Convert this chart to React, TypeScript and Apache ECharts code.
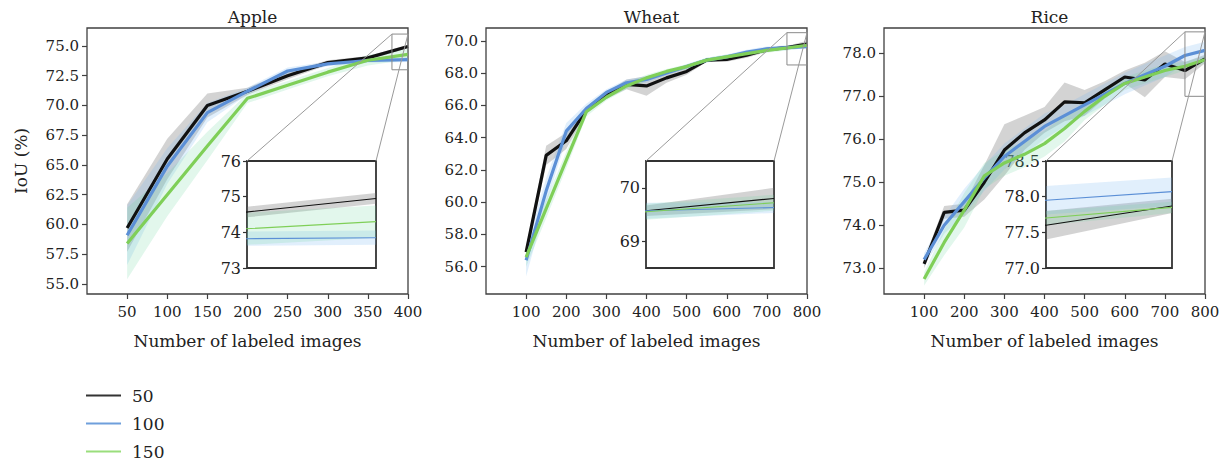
import React, { useEffect, useRef } from "react";
import * as echarts from "echarts";

const FONT = "'DejaVu Serif', 'Liberation Serif', serif";
const TXT = "#222222";

// ---------- Apple ----------
const appleX = [50, 100, 150, 200, 250, 300, 350, 400];
const apple50 = [59.7, 65.5, 70.0, 71.2, 72.5, 73.6, 74.0, 74.95];
const apple100 = [59.1, 64.9, 69.4, 71.2, 72.9, 73.5, 73.78, 73.85];
const apple150 = [58.4, 62.5, 66.6, 70.6, 71.7, 72.8, 73.8, 74.3];
const apple50Sd = [2.0, 1.7, 1.0, 0.3, 0.3, 0.2, 0.15, 0.15];
const apple100Sd = [2.5, 1.5, 0.8, 0.3, 0.3, 0.2, 0.2, 0.2];
const apple150Sd = [3.0, 1.8, 1.2, 0.4, 0.35, 0.35, 0.45, 0.45];
const appleXTicks = [50, 100, 150, 200, 250, 300, 350, 400];
const appleYTicks = [55, 57.5, 60, 62.5, 65, 67.5, 70, 72.5, 75];
const appleInsetTicks = [73, 74, 75, 76];

// ---------- Wheat ----------
const wheatX = [100, 150, 200, 250, 300, 350, 400, 450, 500, 550, 600, 650, 700, 750, 800];
const wheat50 = [56.9, 62.9, 63.8, 65.7, 66.6, 67.3, 67.2, 67.7, 68.1, 68.8, 68.85, 69.1, 69.45, 69.57, 69.8];
const wheat100 = [56.4, 60.7, 64.4, 65.8, 66.8, 67.4, 67.6, 68.0, 68.4, 68.8, 69.0, 69.3, 69.5, 69.57, 69.63];
const wheat150 = [56.6, 59.6, 62.6, 65.6, 66.5, 67.2, 67.7, 68.1, 68.4, 68.8, 69.0, 69.2, 69.4, 69.55, 69.72];
const wheat50Sd = [0.3, 0.6, 0.5, 0.2, 0.2, 0.3, 0.6, 0.3, 0.2, 0.1, 0.15, 0.15, 0.15, 0.1, 0.2];
const wheat100Sd = [1.0, 0.8, 0.5, 0.3, 0.2, 0.2, 0.2, 0.15, 0.15, 0.15, 0.15, 0.15, 0.15, 0.15, 0.1];
const wheat150Sd = [0.6, 0.6, 0.5, 0.3, 0.2, 0.2, 0.2, 0.15, 0.15, 0.15, 0.15, 0.15, 0.15, 0.15, 0.15];
const wheatXTicks = [100, 200, 300, 400, 500, 600, 700, 800];
const wheatYTicks = [56, 58, 60, 62, 64, 66, 68, 70];
const wheatInsetTicks = [69, 70];

// ---------- Rice ----------
const riceX = [100, 150, 200, 250, 300, 350, 400, 450, 500, 550, 600, 650, 700, 750, 800];
const rice50 = [73.1, 74.3, 74.35, 75.0, 75.75, 76.15, 76.45, 76.87, 76.85, 77.15, 77.45, 77.38, 77.75, 77.6, 77.87];
const rice100 = [73.2, 74.0, 74.55, 75.1, 75.6, 75.95, 76.3, 76.55, 76.8, 77.05, 77.3, 77.5, 77.7, 77.95, 78.07];
const rice150 = [72.75, 73.6, 74.35, 75.15, 75.45, 75.65, 75.9, 76.25, 76.65, 77.0, 77.3, 77.45, 77.6, 77.7, 77.85];
const rice50Sd = [0.1, 0.15, 0.15, 0.4, 0.6, 0.4, 0.3, 0.45, 0.3, 0.2, 0.15, 0.4, 0.3, 0.2, 0.1];
const rice100Sd = [0.15, 0.2, 0.3, 0.3, 0.3, 0.3, 0.3, 0.25, 0.25, 0.25, 0.25, 0.25, 0.25, 0.2, 0.2];
const rice150Sd = [0.15, 0.3, 0.4, 0.3, 0.3, 0.3, 0.3, 0.3, 0.2, 0.2, 0.15, 0.15, 0.15, 0.1, 0.08];
const riceXTicks = [100, 200, 300, 400, 500, 600, 700, 800];
const riceYTicks = [73, 74, 75, 76, 77, 78];
const riceInsetTicks = [77, 77.5, 78, 78.5];

const seriesNames = ["50", "100", "150"];
const lineColors = ["#111111", "#5b8fd6", "#7fcf58"];
const legendColors = ["#333333", "#6f9fdc", "#9ade7c"];
const bandColors = ["rgba(110,110,110,0.3)", "rgba(120,180,240,0.22)", "rgba(110,215,160,0.2)"];

const panels = [
  {
    title: "Apple", xs: appleX, means: [apple50, apple100, apple150], sds: [apple50Sd, apple100Sd, apple150Sd],
    xMax: 400, xTicks: appleXTicks, yMin: 54.16, yMax: 76.51, yTicks: appleYTicks, yDigits: 1,
    insetX: [380, 400], insetY: [73, 76], insetTicks: appleInsetTicks, insetDigits: 0,
    grid: { left: 87, top: 28, width: 321, height: 266 },
    inset: { left: 247, top: 161, width: 129, height: 107 },
  },
  {
    title: "Wheat", xs: wheatX, means: [wheat50, wheat100, wheat150], sds: [wheat50Sd, wheat100Sd, wheat150Sd],
    xMax: 800, xTicks: wheatXTicks, yMin: 54.31, yMax: 70.79, yTicks: wheatYTicks, yDigits: 1,
    insetX: [750, 800], insetY: [68.5, 70.5], insetTicks: wheatInsetTicks, insetDigits: 0,
    grid: { left: 486, top: 28, width: 321, height: 266 },
    inset: { left: 646, top: 161, width: 128, height: 107 },
  },
  {
    title: "Rice", xs: riceX, means: [rice50, rice100, rice150], sds: [rice50Sd, rice100Sd, rice150Sd],
    xMax: 800, xTicks: riceXTicks, yMin: 72.4, yMax: 78.59, yTicks: riceYTicks, yDigits: 1,
    insetX: [750, 800], insetY: [77, 78.5], insetTicks: riceInsetTicks, insetDigits: 1,
    grid: { left: 884, top: 28, width: 321, height: 266 },
    inset: { left: 1046, top: 161, width: 126, height: 107 },
  },
];

function bandSeries(xs: number[], mean: number[], sd: number[], color: string, axis: number, name: string) {
  return {
    type: "custom",
    name,
    xAxisIndex: axis,
    yAxisIndex: axis,
    clip: true,
    silent: true,
    z: 1,
    encode: { x: 0, y: [1, 2] },
    data: xs.map((x, i) => [x, mean[i] - sd[i], mean[i] + sd[i]]),
    renderItem: (params: any, api: any) => {
      if (params.dataIndex !== 0) return null;
      const up = xs.map((x, i) => api.coord([x, mean[i] + sd[i]]));
      const lo = xs.map((x, i) => api.coord([x, mean[i] - sd[i]])).reverse();
      return { type: "polygon", shape: { points: up.concat(lo) }, style: { fill: color } };
    },
  };
}

export default function App() {
  const ref = useRef<HTMLDivElement>(null);
  useEffect(() => {
    if (!ref.current) return;
    const chart = echarts.init(ref.current, null, { renderer: "svg" });

    const grids: any[] = [];
    const xAxes: any[] = [];
    const yAxes: any[] = [];
    const series: any[] = [];
    const titles: any[] = [];

    panels.forEach((p, i) => {
      grids[i] = { ...p.grid, show: true, borderColor: "#404040", borderWidth: 1.3, backgroundColor: "transparent" };
      grids[i + 3] = { ...p.inset, show: true, borderColor: "#333333", borderWidth: 1.8, backgroundColor: "transparent" };
      xAxes[i] = {
        type: "value", gridIndex: i, min: 0, max: p.xMax,
        axisLine: { show: false },
        axisTick: { show: true, length: 5, lineStyle: { color: "#404040", width: 1.2 }, customValues: p.xTicks },
        axisLabel: { customValues: p.xTicks, fontFamily: FONT, fontSize: 15, color: TXT, margin: 10, hideOverlap: false },
        splitLine: { show: false },
        name: "Number of labeled images", nameLocation: "middle", nameGap: 38,
        nameTextStyle: { fontFamily: FONT, fontSize: 17, color: TXT },
      };
      yAxes[i] = {
        type: "value", gridIndex: i, min: p.yMin, max: p.yMax,
        axisLine: { show: false },
        axisTick: { show: true, length: 5, lineStyle: { color: "#404040", width: 1.2 }, customValues: p.yTicks },
        axisLabel: {
          customValues: p.yTicks, fontFamily: FONT, fontSize: 15, color: TXT, margin: 8, hideOverlap: false,
          formatter: (v: number) => v.toFixed(p.yDigits),
        },
        splitLine: { show: false },
        ...(i === 0
          ? { name: "IoU (%)", nameLocation: "middle", nameGap: 58, nameTextStyle: { fontFamily: FONT, fontSize: 17, color: TXT } }
          : {}),
      };
      xAxes[i + 3] = {
        type: "value", gridIndex: i + 3, min: p.insetX[0], max: p.insetX[1],
        axisLine: { show: false }, axisTick: { show: false }, axisLabel: { show: false }, splitLine: { show: false },
      };
      yAxes[i + 3] = {
        type: "value", gridIndex: i + 3, min: p.insetY[0], max: p.insetY[1],
        axisLine: { show: false },
        axisTick: { show: true, length: 4, lineStyle: { color: "#333333", width: 1.2 }, customValues: p.insetTicks },
        axisLabel: {
          customValues: p.insetTicks, fontFamily: FONT, fontSize: 16, color: TXT, margin: 6, hideOverlap: false,
          formatter: (v: number) => v.toFixed(p.insetDigits),
        },
        splitLine: { show: false },
      };
      titles.push({
        text: p.title, left: p.grid.left + p.grid.width / 2, top: 3, textAlign: "center",
        textStyle: { fontFamily: FONT, fontSize: 17, fontWeight: "normal", color: TXT },
      });

      [0, 1, 2].forEach((k) => {
        series.push(bandSeries(p.xs, p.means[k], p.sds[k], bandColors[k], i, "band" + seriesNames[k]));
        series.push(bandSeries(p.xs, p.means[k], p.sds[k], bandColors[k], i + 3, "band" + seriesNames[k]));
      });
      [0, 1, 2].forEach((k) => {
        const data = p.xs.map((x, j) => [x, p.means[k][j]]);
        series.push({
          type: "line", name: seriesNames[k], xAxisIndex: i, yAxisIndex: i, data, symbol: "none",
          lineStyle: { color: lineColors[k], width: 3.2 }, itemStyle: { color: lineColors[k] }, z: 3 + k, clip: true,
        });
        series.push({
          type: "line", name: seriesNames[k], xAxisIndex: i + 3, yAxisIndex: i + 3, data, symbol: "none",
          lineStyle: { color: lineColors[k], width: 1.1 }, itemStyle: { color: lineColors[k] }, z: 3 + k, clip: true,
        });
      });
    });

    chart.setOption({
      animation: false,
      backgroundColor: "#ffffff",
      title: titles,
      grid: grids,
      xAxis: xAxes,
      yAxis: yAxes,
      series,
      legend: {
        data: seriesNames.map((n, k) => ({ name: n, itemStyle: { color: legendColors[k] } })),
        orient: "vertical", left: 86, top: 387, itemWidth: 35, itemHeight: 2, icon: "rect", itemGap: 11,
        padding: 0, height: 78, width: 200,
        textStyle: { fontFamily: FONT, fontSize: 17, color: TXT, padding: [0, 0, 0, 6] },
        selectedMode: false,
      },
    });

    const graphics: any[] = [];
    panels.forEach((p, i) => {
      const tl = chart.convertToPixel({ gridIndex: i } as any, [p.insetX[0], p.insetY[1]]) as number[];
      const br = chart.convertToPixel({ gridIndex: i } as any, [p.insetX[1], p.insetY[0]]) as number[];
      const itl = chart.convertToPixel({ gridIndex: i + 3 } as any, [p.insetX[0], p.insetY[1]]) as number[];
      const itr = chart.convertToPixel({ gridIndex: i + 3 } as any, [p.insetX[1], p.insetY[1]]) as number[];
      graphics.push({
        type: "rect", z: 20, silent: true,
        shape: { x: tl[0], y: tl[1], width: br[0] - tl[0], height: br[1] - tl[1] },
        style: { fill: "none", stroke: "#8a8a8a", lineWidth: 1 },
      });
      graphics.push({
        type: "line", z: 20, silent: true,
        shape: { x1: tl[0], y1: tl[1], x2: itl[0], y2: itl[1] },
        style: { stroke: "#9a9a9a", lineWidth: 1 },
      });
      graphics.push({
        type: "line", z: 20, silent: true,
        shape: { x1: br[0], y1: tl[1], x2: itr[0], y2: itr[1] },
        style: { stroke: "#9a9a9a", lineWidth: 1 },
      });
    });
    chart.setOption({ graphic: graphics });

    return () => chart.dispose();
  }, []);

  return <div ref={ref} style={{ position: "absolute", left: 0, top: 0, width: 1227, height: 465 }} />;
}
